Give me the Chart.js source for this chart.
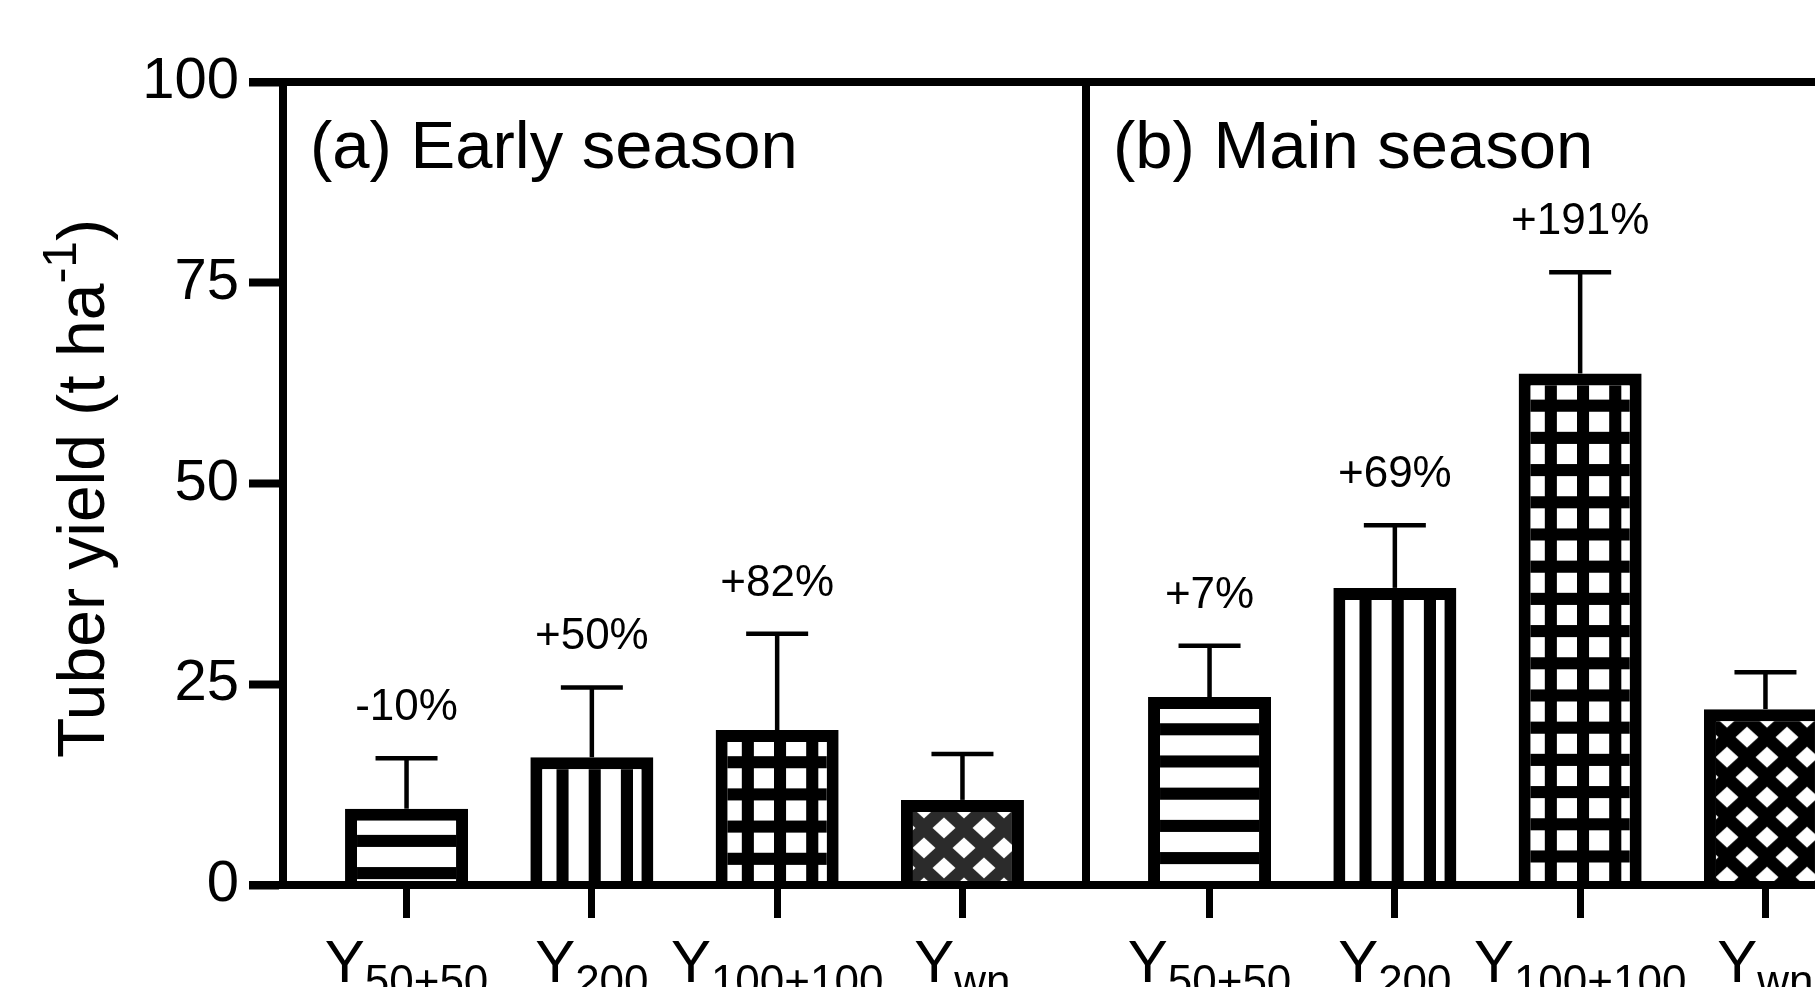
<!DOCTYPE html>
<html>
<head>
<meta charset="utf-8">
<title>Tuber yield</title>
<script src="https://cdn.jsdelivr.net/npm/chart.js@4.4.1/dist/chart.umd.min.js"></script>
<style>
  html, body { margin: 0; padding: 0; background: #fff; overflow: hidden; }
  #wrap { width: 1815px; height: 987px; overflow: hidden; position: relative; }
  canvas { display: block; }
</style>
</head>
<body>
<div id="wrap"><canvas id="c" width="1900" height="987"></canvas></div>
<script>
// Treatment subscripts of Y, in plotting order within each season
const treatments = ['50+50', '200', '100+100', 'wn'];
const seasonTitles = ['(a) Early season', '(b) Main season'];

// Mean tuber yield (t ha-1)
const earlyYield = [9.5, 15.9, 19.3, 10.6];
const mainYield  = [23.4, 37.0, 63.7, 21.9];

// Standard deviation (upper error bar)
const earlySD = [6.3, 8.7, 12.0, 5.7];
const mainSD  = [6.4, 7.8, 12.6, 4.6];

// Yield change relative to Ywn
const earlyChange = ['-10%', '+50%', '+82%', null];
const mainChange  = ['+7%', '+69%', '+191%', null];

const yTicks = [0, 25, 50, 75, 100];
const yTitleMain = 'Tuber yield (t ha';
const yTitleSup = '-1';
const yTitleEnd = ')';

// ---- layout / style ----
const FONT = '"Liberation Sans", Arial, Helvetica, sans-serif';
const BAR_W = 123;          // bar thickness in px
const PANEL = 4 + 1 / 3;    // width of one season panel, in category units
const X_MIN = 1 / 3;
const LINE = 8;             // frame line width
const TICK = 34;            // y tick length

Chart.defaults.font.family = FONT;
Chart.defaults.color = '#000';

const seasons = [
  { yield: earlyYield, sd: earlySD, change: earlyChange },
  { yield: mainYield,  sd: mainSD,  change: mainChange }
];

const points = [];
seasons.forEach((s, si) => {
  s.yield.forEach((v, i) => {
    points.push({ x: i + 1 + si * PANEL, y: v, sd: s.sd[i], change: s.change[i], t: i, season: si });
  });
});
const tickPositions = points.map(p => p.x);

// ---- fill patterns ----
function tile(w, h, draw) {
  const c = document.createElement('canvas');
  c.width = w; c.height = h;
  draw(c.getContext('2d'));
  return c;
}
function diamonds(col) {
  return tile(40, 40, g => {
    g.fillStyle = col; g.fillRect(0, 0, 40, 40);
    g.fillStyle = '#fff';
    [[0, 0], [40, 0], [0, 40], [40, 40], [20, 20]].forEach(([cx, cy]) => {
      g.beginPath();
      g.moveTo(cx - 11.5, cy); g.lineTo(cx, cy - 10.5);
      g.lineTo(cx + 11.5, cy); g.lineTo(cx, cy + 10.5);
      g.closePath(); g.fill();
    });
  });
}
const tiles = {
  h: tile(32, 32, g => { g.fillStyle = '#fff'; g.fillRect(0, 0, 32, 32); g.fillStyle = '#000'; g.fillRect(0, 20, 32, 12); }),
  v: tile(32, 32, g => { g.fillStyle = '#fff'; g.fillRect(0, 0, 32, 32); g.fillStyle = '#000'; g.fillRect(20, 0, 12, 32); }),
  grid: tile(32, 32, g => { g.fillStyle = '#fff'; g.fillRect(0, 0, 32, 32); g.fillStyle = '#000'; g.fillRect(0, 20, 32, 12); g.fillRect(20, 0, 12, 32); }),
  dGray: diamonds('#2b2b2b'),
  dBlack: diamonds('#000')
};

function barFill(ctx) {
  if (ctx.type !== 'data') return '#fff';
  const chart = ctx.chart;
  const xs = chart.scales.x, ys = chart.scales.y;
  const p = ctx.raw;
  const left = xs.getPixelForValue(p.x) - BAR_W / 2;
  const top = ys.getPixelForValue(p.y);
  let t, ox = 6, oy = 6, s = 32.2 / 32;
  if (p.t === 0) t = tiles.h;
  else if (p.t === 1) t = tiles.v;
  else if (p.t === 2) t = tiles.grid;
  else { t = p.season === 0 ? tiles.dGray : tiles.dBlack; ox = 3; oy = -12; s = 1; }
  const pat = chart.ctx.createPattern(t, 'repeat');
  if (isFinite(left) && isFinite(top)) {
    pat.setTransform(new DOMMatrix().translate(left + ox, top + oy).scale(s));
  }
  return pat;
}

function line(g, x1, y1, x2, y2) {
  g.beginPath(); g.moveTo(x1, y1); g.lineTo(x2, y2); g.stroke();
}

// Frame, panel divider, error bars, change labels, panel titles, category labels, axis title
const decorations = {
  id: 'decorations',
  afterDatasetsDraw(chart) {
    const g = chart.ctx;
    const xs = chart.scales.x, ys = chart.scales.y;
    const area = chart.chartArea;
    const top = ys.getPixelForValue(100);
    const bot = ys.getPixelForValue(0);
    const tickLeft = area.left - TICK;
    g.save();
    g.strokeStyle = '#000';
    g.fillStyle = '#000';
    g.lineCap = 'butt';

    // frame lines
    g.lineWidth = LINE;
    line(g, tickLeft, top, area.right + LINE / 2, top);
    line(g, tickLeft, bot, area.right + LINE / 2, bot);
    const dividers = [X_MIN, X_MIN + PANEL, X_MIN + 2 * PANEL];
    dividers.forEach(v => {
      const x = xs.getPixelForValue(v);
      line(g, x, top - LINE / 2, x, bot + LINE / 2);
    });

    // error bars (upper) and change labels
    points.forEach(p => {
      const cx = xs.getPixelForValue(p.x);
      const yBar = ys.getPixelForValue(p.y);
      const yTop = ys.getPixelForValue(p.y + p.sd);
      g.lineWidth = 4.5;
      line(g, cx, yBar, cx, yTop);
      line(g, cx - 31, yTop, cx + 31, yTop);
      if (p.change) {
        g.font = '44px ' + FONT;
        g.textAlign = 'center';
        g.textBaseline = 'alphabetic';
        g.fillText(p.change, cx, yTop - 38);
      }
    });

    // panel titles
    g.font = '67px ' + FONT;
    g.textAlign = 'left';
    g.textBaseline = 'alphabetic';
    seasonTitles.forEach((t, si) => {
      const x = xs.getPixelForValue(X_MIN + si * PANEL) + 27;
      g.fillText(t, x, top + 86);
    });

    // category labels: Y with subscript
    points.forEach(p => {
      const cx = xs.getPixelForValue(p.x);
      const sub = treatments[p.t];
      g.font = '60px ' + FONT;
      const wY = g.measureText('Y').width;
      g.font = '44px ' + FONT;
      const wS = g.measureText(sub).width;
      const x0 = cx - (wY + wS) / 2;
      g.textAlign = 'left';
      g.font = '60px ' + FONT;
      g.fillText('Y', x0, bot + 97);
      g.font = '44px ' + FONT;
      g.fillText(sub, x0 + wY, bot + 111);
    });

    // y-axis title with superscript
    g.save();
    g.translate(104, (top + bot) / 2 + 5);
    g.rotate(-Math.PI / 2);
    g.font = '66px ' + FONT;
    const w1 = g.measureText(yTitleMain).width;
    const w3 = g.measureText(yTitleEnd).width;
    g.font = '48px ' + FONT;
    const w2 = g.measureText(yTitleSup).width;
    let x = -(w1 + w2 + w3) / 2;
    g.textAlign = 'left';
    g.font = '66px ' + FONT;
    g.fillText(yTitleMain, x, 0);
    x += w1;
    g.font = '48px ' + FONT;
    g.fillText(yTitleSup, x, -28);
    x += w2;
    g.font = '66px ' + FONT;
    g.fillText(yTitleEnd, x, 0);
    g.restore();

    g.restore();
  }
};

new Chart(document.getElementById('c'), {
  type: 'bar',
  data: {
    datasets: [{
      label: 'Tuber yield',
      data: points,
      backgroundColor: barFill,
      borderColor: '#000',
      borderWidth: 12,
      borderSkipped: 'start',
      inflateAmount: 0,
      barThickness: BAR_W
    }]
  },
  options: {
    responsive: false,
    animation: false,
    devicePixelRatio: 1,
    layout: { padding: { top: 82, right: 11, bottom: 0, left: 0 } },
    plugins: { legend: { display: false }, tooltip: { enabled: false } },
    scales: {
      x: {
        type: 'linear',
        min: X_MIN,
        max: X_MIN + 2 * PANEL,
        offset: false,
        afterBuildTicks: s => { s.ticks = tickPositions.map(v => ({ value: v })); },
        afterFit: s => { s.height = 102; },
        ticks: { display: false },
        grid: { drawOnChartArea: false, drawTicks: true, tickLength: 33, tickWidth: 7, tickColor: '#000', offset: false },
        border: { display: true, width: LINE, color: '#000' }
      },
      y: {
        min: 0,
        max: 100,
        afterBuildTicks: s => { s.ticks = yTicks.map(v => ({ value: v })); },
        afterFit: s => { s.width = 283; },
        ticks: { font: { size: 58 }, color: '#000', padding: 10 },
        grid: { drawOnChartArea: false, drawTicks: true, tickLength: TICK, tickWidth: LINE, tickColor: '#000' },
        border: { display: true, width: LINE, color: '#000' }
      }
    }
  },
  plugins: [decorations]
});
</script>
</body>
</html>
